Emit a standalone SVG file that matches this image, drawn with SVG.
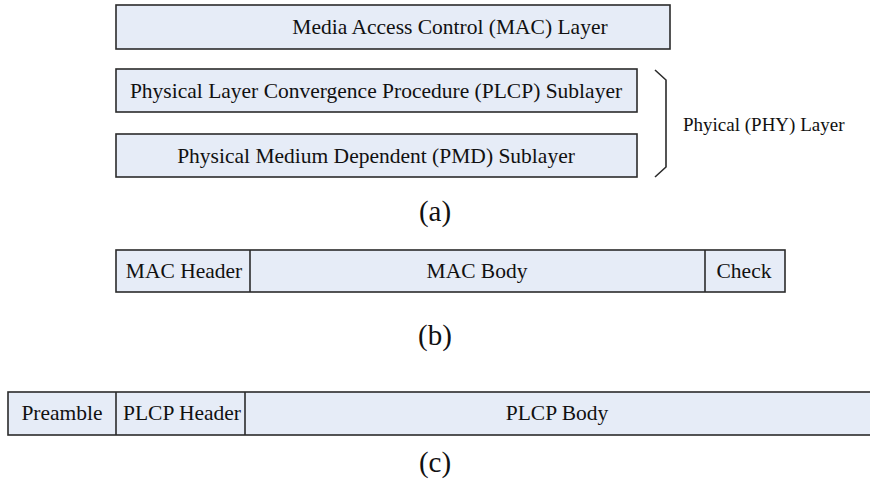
<svg xmlns="http://www.w3.org/2000/svg" width="870" height="484" viewBox="0 0 870 484">
<style>
.box{fill:#e6ecf7;stroke:#2b2b2b;stroke-width:1.6}
.t{font-family:"Liberation Serif","Times New Roman",serif;font-size:21.5px;fill:#111;text-anchor:middle}
.cap{font-family:"Liberation Serif","Times New Roman",serif;font-size:29px;fill:#111;text-anchor:middle}
.sep{stroke:#2b2b2b;stroke-width:1.6;fill:none}
</style>
<rect width="870" height="484" fill="#fff"/>
<g id="mac-layer">
<rect class="box" x="116" y="5" width="554" height="44"/>
<text class="t" x="450" y="34">Media Access Control (MAC) Layer</text>
</g>
<g id="plcp-sublayer">
<rect class="box" x="116" y="69" width="521" height="43"/>
<text class="t" x="376" y="98">Physical Layer Convergence Procedure (PLCP) Sublayer</text>
</g>
<g id="pmd-sublayer">
<rect class="box" x="116" y="134" width="521" height="43"/>
<text class="t" x="376" y="163">Physical Medium Dependent (PMD) Sublayer</text>
</g>
<g id="phy-layer">
<path class="sep" d="M655,70 L666,80 L666,167 L655,177"/>
<text class="t" x="683" y="131" style="text-anchor:start;font-size:19px">Phyical (PHY) Layer</text>
</g>
<text class="cap" x="435" y="221">(a)</text>
<g id="mac-frame">
<rect class="box" x="116" y="250" width="669" height="42"/>
<line class="sep" x1="250" y1="250" x2="250" y2="292"/>
<line class="sep" x1="705" y1="250" x2="705" y2="292"/>
<text class="t" x="184" y="278">MAC Header</text>
<text class="t" x="477" y="278">MAC Body</text>
<text class="t" x="744" y="278">Check</text>
</g>
<text class="cap" x="435" y="345">(b)</text>
<g id="plcp-frame">
<rect class="box" x="8" y="392" width="870" height="43"/>
<line class="sep" x1="116" y1="392" x2="116" y2="435"/>
<line class="sep" x1="245" y1="392" x2="245" y2="435"/>
<text class="t" x="62" y="420">Preamble</text>
<text class="t" x="182" y="420">PLCP Header</text>
<text class="t" x="557" y="420">PLCP Body</text>
</g>
<text class="cap" x="435" y="472">(c)</text>
<g id="connectors"></g>
</svg>
